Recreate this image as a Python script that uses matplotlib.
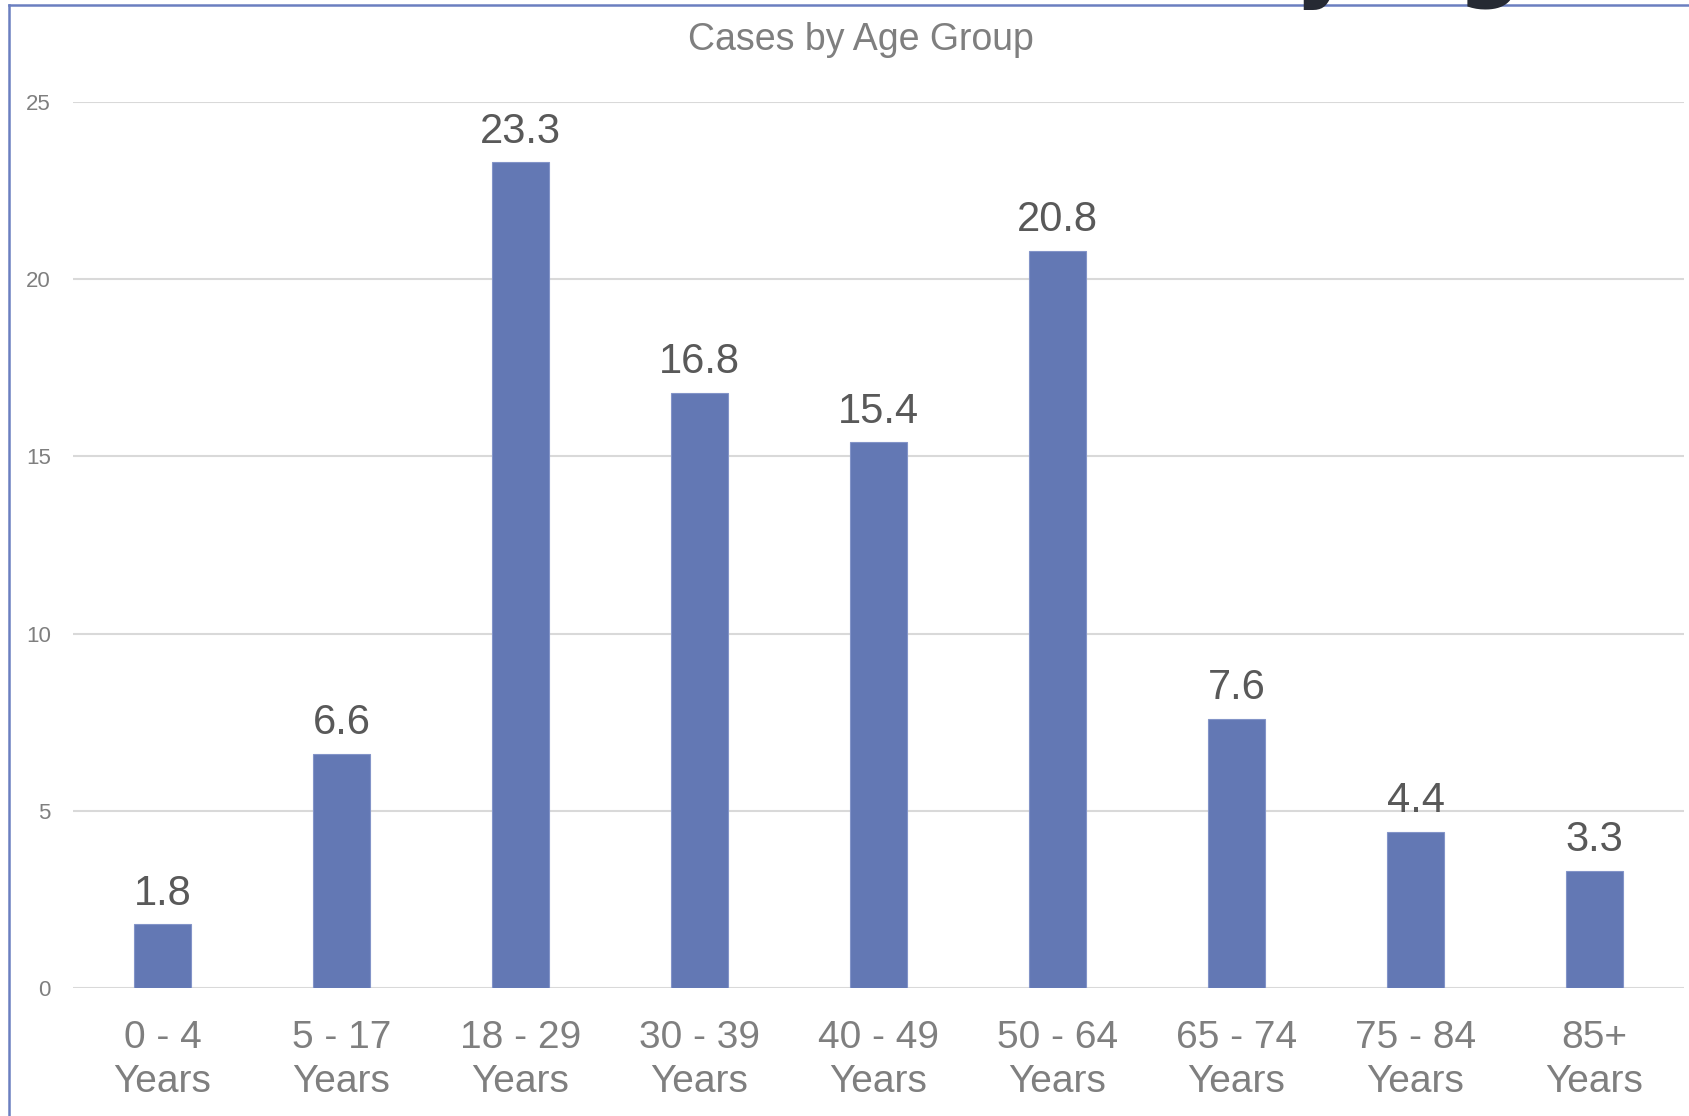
import numpy as np
import matplotlib.pyplot as plt
from matplotlib.lines import Line2D

plt.rcParams['font.family'] = ['Liberation Sans', 'DejaVu Sans']

# Age groups and case percentages
age_groups = ['0 - 4\nYears', '5 - 17\nYears', '18 - 29\nYears', '30 - 39\nYears',
              '40 - 49\nYears', '50 - 64\nYears', '65 - 74\nYears', '75 - 84\nYears',
              '85+\nYears']
cases = [1.8, 6.6, 23.3, 16.8, 15.4, 20.8, 7.6, 4.4, 3.3]
y_ticks = [0, 5, 10, 15, 20, 25]

fig = plt.figure(figsize=(16.9, 11.16), dpi=100)
ax = fig.add_axes([0.0432, 0.1147, 0.9533, 0.7939])

x = np.arange(len(cases))
bars = ax.bar(x, cases, width=0.32, color='#6378b4', edgecolor='#8394c8', linewidth=0.8, zorder=3)

# value labels above each bar
for b, v in zip(bars, cases):
    ax.text(b.get_x() + b.get_width() / 2, v + 0.3, f'{v:.1f}', ha='center', va='bottom',
            fontsize=30, color='#595959')

ax.set_xlim(-0.5, len(cases) - 0.5)
ax.set_ylim(0, 25)
ax.set_yticks(y_ticks)
ax.set_xticks(x)
ax.set_xticklabels(age_groups, fontsize=28, color='#7f7f7f', linespacing=1.3)
ax.tick_params(axis='y', labelsize=16, labelcolor='#7f7f7f', length=0, pad=16)
ax.tick_params(axis='x', length=0, pad=23)
ax.grid(axis='y', color='#d9d9d9', linewidth=1.5, zorder=0)
for s in ax.spines.values():
    s.set_visible(False)

fig.text(0.5095, 0.964, 'Cases by Age Group', ha='center', va='center', fontsize=27, color='#7f7f7f')

# slide heading running off the top edge
fig.text(0.727, 1.009, 'by Age', ha='left', va='baseline', fontsize=66,
         fontweight='bold', family=['DejaVu Sans'], color='#262a33')

# chart frame edges
fy = 1 - 5 / 1116
fx = 9 / 1690
fig.add_artist(Line2D([fx, 1], [fy, fy], color='#6b7fc0', linewidth=1.8))
fig.add_artist(Line2D([fx, fx], [0, fy], color='#6b7fc0', linewidth=1.8))

fig.savefig('out.png', dpi=100)
